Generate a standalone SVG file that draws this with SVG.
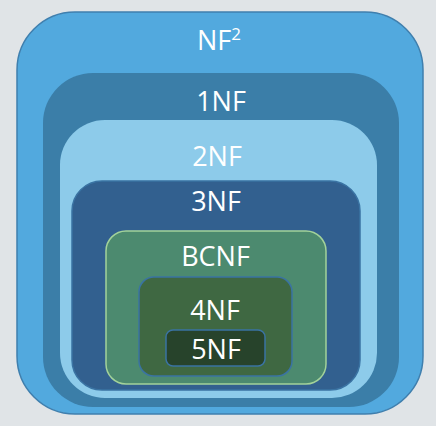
<svg xmlns="http://www.w3.org/2000/svg" width="436" height="426" viewBox="0 0 436 426">
<style>
text{font-family:"Open Sans","Noto Sans","DejaVu Sans",sans-serif;font-size:27px;fill:#ffffff;text-anchor:middle}
</style>
<rect x="0" y="0" width="436" height="426" fill="#e0e4e7"/>
<g id="nf2">
<rect x="17" y="12" width="406" height="402" rx="58" ry="58" fill="#52a9de" stroke="#3f7fae" stroke-width="1.5"/>
<text x="219" y="50">NF<tspan font-size="17" dy="-10">2</tspan></text>
</g>
<g id="nf1">
<rect x="43" y="73" width="356" height="334" rx="50" ry="50" fill="#3b7ea8"/>
<text x="221" y="111">1NF</text>
</g>
<g id="nf2nd">
<rect x="60" y="120" width="317" height="278" rx="45" ry="45" fill="#8dcbea"/>
<text x="217" y="166">2NF</text>
</g>
<g id="nf3">
<rect x="72" y="181" width="288" height="209" rx="30" ry="30" fill="#32608f" stroke="#3a73a3" stroke-width="1.5"/>
<text x="216" y="211">3NF</text>
</g>
<g id="bcnf">
<rect x="106" y="231" width="220" height="153" rx="20" ry="20" fill="#4c8a6f" stroke="#a3d29a" stroke-width="1.5"/>
<text x="215.5" y="266">BCNF</text>
</g>
<g id="nf4">
<rect x="139" y="277" width="153" height="99" rx="15" ry="15" fill="#3f6842" stroke="#3a73a3" stroke-width="1.5"/>
<text x="215" y="320">4NF</text>
</g>
<g id="nf5">
<rect x="166" y="330" width="99" height="36" rx="7" ry="7" fill="#27432b" stroke="#3a73a3" stroke-width="1.5"/>
<text x="216" y="359">5NF</text>
</g>
<g id="connectors"/>
</svg>
